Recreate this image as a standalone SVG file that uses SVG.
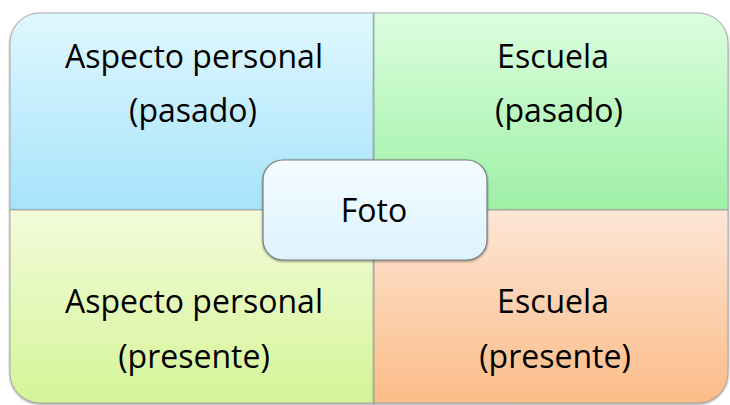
<svg xmlns="http://www.w3.org/2000/svg" width="730" height="405" viewBox="0 0 730 405">
<defs>
<linearGradient id="gTL" x1="0" y1="0" x2="0" y2="1"><stop offset="0" stop-color="#e0f8ff"/><stop offset="1" stop-color="#a6e3fa"/></linearGradient>
<linearGradient id="gTR" x1="0" y1="0" x2="0" y2="1"><stop offset="0" stop-color="#dcfede"/><stop offset="1" stop-color="#9ef0a6"/></linearGradient>
<linearGradient id="gBL" x1="0" y1="0" x2="0" y2="1"><stop offset="0" stop-color="#f3fbda"/><stop offset="1" stop-color="#d4f597"/></linearGradient>
<linearGradient id="gBR" x1="0" y1="0" x2="0" y2="1"><stop offset="0" stop-color="#fde6d6"/><stop offset="1" stop-color="#fbbc88"/></linearGradient>
<linearGradient id="gC" x1="0" y1="0" x2="0" y2="1"><stop offset="0" stop-color="#f4fcff"/><stop offset="1" stop-color="#dcf3fe"/></linearGradient>
<filter id="sh" x="-10%" y="-10%" width="120%" height="120%"><feDropShadow dx="0" dy="1" stdDeviation="1.2" flood-color="#000" flood-opacity="0.45"/></filter>
</defs>
<style>
.q{stroke:#9a9a9a;stroke-width:0.8;filter:url(#sh)}
.t{font-family:"Open Sans","Liberation Sans",Arial,sans-serif;font-size:32px;fill:#000;text-anchor:middle}
</style>
<g id="q-tl"><path class="q" d="M10,43 A30,30 0 0 1 40,13 L374,13 L374,210 L10,210 Z" fill="url(#gTL)"/>
<text class="t" x="194" y="68">Aspecto personal</text><text class="t" x="193" y="122">(pasado)</text></g>
<g id="q-tr"><path class="q" d="M374,13 L698,13 A30,30 0 0 1 728,43 L728,210 L374,210 Z" fill="url(#gTR)"/>
<text class="t" x="553" y="68">Escuela</text><text class="t" x="559" y="122">(pasado)</text></g>
<g id="q-bl"><path class="q" d="M10,210 L374,210 L374,403 L40,403 A30,30 0 0 1 10,373 Z" fill="url(#gBL)"/>
<text class="t" x="194" y="313">Aspecto personal</text><text class="t" x="194" y="368">(presente)</text></g>
<g id="q-br"><path class="q" d="M374,210 L728,210 L728,373 A30,30 0 0 1 698,403 L374,403 Z" fill="url(#gBR)"/>
<text class="t" x="553" y="313">Escuela</text><text class="t" x="555" y="368">(presente)</text></g>
<g id="center"><rect x="263" y="160" width="224" height="100" rx="20" fill="url(#gC)" stroke="#7a7a7a" stroke-width="1.2" filter="url(#sh)"/>
<text class="t" x="374" y="222">Foto</text></g>
</svg>
